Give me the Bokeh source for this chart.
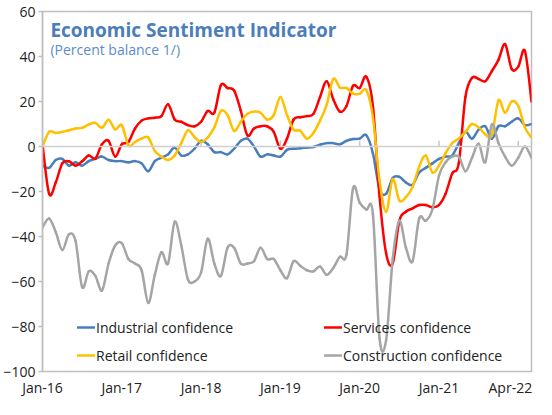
import numpy as np
from bokeh.plotting import figure
from bokeh.models import Range1d, FixedTicker, Span, Label, Legend, LegendItem
from bokeh.embed import file_html
from bokeh.resources import INLINE

# Monthly data, Jan-16 .. Mar-22 (75 months), month index used as x
industrial = [-8.5, -9.5, -6, -5.5, -8.5, -7, -8.5, -6.5, -5.5, -4.5, -6, -6.5,
              -6.5, -7, -6.5, -7.5, -11, -6.5, -5, -3.5, -0.5, -4, -3.5, -1,
              2.5, 1, -2.5, -2.5, -3.5, -1, 2.5, 3.5, 0, -4.5, -3.5, -4,
              -4.5, -1.5, -1, -0.8, -0.5, -0.2, 0.8, 1.5, 1.5, 1, 2.5, 3.3,
              3.5, 5, -3, -19, -21, -14, -13.5, -16, -17, -11.5, -9.5, -7.5,
              -5.5, -4.5, -4, 1.5, 6.5, 3.5, 7.5, 9, 3.5, 9, 9, 11,
              12.5, 9.5, 10]
services = [1, -21, -16, -7.5, -6.6, -8.5, -6.6, -4, -5.3, 1, 2.5, -4.5,
            1, 2, 8, 11.5, 12.5, 12.8, 13.5, 18.8, 12, 11, 9.5, 9,
            11, 15.8, 15, 27.3, 26, 24.8, 16, 5, 8, 9, 9, 6.5,
            -1, 3.5, 12, 13, 13.5, 14.5, 22, 29, 21, 15.5, 18, 27,
            26, 31, 18, -22, -47.5, -52, -33, -29, -27.5, -26, -26, -27,
            -26, -21, -12, -7.4, 22, 30.5, 30, 29, 33.5, 38.5, 45.5, 34.5,
            35.5, 42.5, 20]
retail = [0, 6.5, 6, 6.5, 7.2, 8, 8.3, 9.8, 10.5, 8.3, 11.9, 7.6,
          9.5, 0.5, 2, 3.5, 4, -2, -4.5, -6, -4, 1.5, 7.2, 4.2,
          2, 4, 8.5, 15.8, 14, 6.9, 11, 14.5, 15.5, 15, 12, 14,
          22, 14, 7.5, 7, 3.5, 6, 11.5, 18.5, 30, 26.2, 26, 23.5,
          23.4, 25, 13, -15, -29, -14.5, -24, -22.5, -18, -9, -4, -11.5,
          -8.5, -3, 1.5, 3.5, 6.5, 10, 8.5, 5.5, 5, 20.5, 15, 20,
          18, 8.5, 4]
construction = [-36, -32, -38, -46, -39, -42, -62.5, -55.5, -57.5, -64, -52, -44,
                -43, -50, -52, -55, -69.5, -57, -47, -52, -33.5, -44, -59, -60,
                -56, -41, -52, -57.5, -45, -45, -52, -52, -51, -45, -50, -50,
                -55, -58.5, -51, -53, -55, -55.5, -53.3, -57, -54, -49, -48, -18.5,
                -25, -28, -30, -85, -86, -50, -33, -45, -51, -32, -33, -28,
                -13, -7, -4.5, -4.5, -11, -5, 1.2, -7, 9.8, 1.5, -4.5, -8.5,
                -5, 0, -5]
months = list(range(len(industrial)))

y_ticks = [-100, -80, -60, -40, -20, 0, 20, 40, 60]
year_ticks = [0, 12, 24, 36, 48, 60, 72]
x_label_pos = [0, 12, 24, 36, 48, 60, 70.8]
x_labels = ["Jan-16", "Jan-17", "Jan-18", "Jan-19", "Jan-20", "Jan-21", "Apr-22"]

FONT = "Open Sans"

p = figure(width=536, height=399, x_range=Range1d(0, 74), y_range=Range1d(-100, 60),
           output_backend="svg", toolbar_location=None,
           min_border_left=37, min_border_right=5, min_border_top=11, min_border_bottom=25)
p.xgrid.visible = False
p.ygrid.visible = False
p.outline_line_color = "#BFBFBF"
p.outline_line_width = 1.5
p.background_fill_color = "white"
p.border_fill_color = "white"

# y axis
p.yaxis.ticker = FixedTicker(ticks=y_ticks)
p.yaxis.axis_line_color = "#BFBFBF"
p.yaxis.axis_line_width = 1.5
p.yaxis.major_tick_line_color = "#BFBFBF"
p.yaxis.major_tick_line_width = 1.5
p.yaxis.major_tick_out = 4
p.yaxis.major_tick_in = 0
p.yaxis.minor_tick_line_color = None
p.yaxis.major_label_standoff = 3
p.yaxis.major_label_text_font = FONT
p.yaxis.major_label_text_font_size = "14px"
p.yaxis.major_label_text_color = "#222222"

# x axis (labels only, at the bottom)
p.xaxis.ticker = FixedTicker(ticks=x_label_pos)
p.xaxis.major_label_overrides = {pos: lab for pos, lab in zip(x_label_pos, x_labels)}
p.xaxis.axis_line_color = None
p.xaxis.major_tick_line_color = None
p.xaxis.minor_tick_line_color = None
p.xaxis.major_tick_out = 0
p.xaxis.major_label_standoff = 6
p.xaxis.major_label_text_font = FONT
p.xaxis.major_label_text_font_size = "14px"
p.xaxis.major_label_text_color = "#222222"

# zero line with upward year ticks
p.add_layout(Span(location=0, dimension="width", line_color="#D0D0D0", line_width=1.5))
p.segment(x0=year_ticks, y0=[0] * len(year_ticks), x1=year_ticks, y1=[2.6] * len(year_ticks),
          line_color="#C8C8C8", line_width=1.5)


def smooth_line(xs, ys, color):
    """Draw a smoothed (Excel-like) line through the data points with bezier segments."""
    x = np.asarray(xs, dtype=float)
    y = np.asarray(ys, dtype=float)
    xp = np.concatenate([[x[0]], x, [x[-1]]])
    yp = np.concatenate([[y[0]], y, [y[-1]]])
    x0, y0 = x[:-1], y[:-1]
    x1, y1 = x[1:], y[1:]
    cx0 = x0 + (xp[2:-1] - xp[:-3]) / 6.0
    cy0 = y0 + (yp[2:-1] - yp[:-3]) / 6.0
    cx1 = x1 - (xp[3:] - xp[1:-2]) / 6.0
    cy1 = y1 - (yp[3:] - yp[1:-2]) / 6.0
    return p.bezier(x0=x0, y0=y0, x1=x1, y1=y1, cx0=cx0, cy0=cy0, cx1=cx1, cy1=cy1,
                    line_color=color, line_width=2.5, line_cap="round")


r_ind = smooth_line(months, industrial, "#4A7EBB")
r_ser = smooth_line(months, services, "#FF0000")
r_ret = smooth_line(months, retail, "#FFC000")
r_con = smooth_line(months, construction, "#A5A5A5")


def make_legend(items, loc):
    lg = Legend(items=items, location=loc, orientation="vertical",
                glyph_width=18, glyph_height=20, label_height=20, spacing=8,
                padding=0, margin=0, label_standoff=1,
                border_line_alpha=0, background_fill_alpha=0,
                label_text_font=FONT, label_text_font_size="14px",
                label_text_color="#222222")
    return lg

p.add_layout(make_legend([LegendItem(label="Industrial confidence", renderers=[r_ind]),
                          LegendItem(label="Retail confidence", renderers=[r_ret])], (35, 6)), "center")
p.add_layout(make_legend([LegendItem(label="Services confidence", renderers=[r_ser]),
                          LegendItem(label="Construction confidence", renderers=[r_con])], (282, 6)), "center")

p.add_layout(Label(x=1.2, y=51.9, text="Economic Sentiment Indicator", text_font=FONT,
                   text_font_style="bold", text_font_size="19px", text_color="#4A7EBB",
                   text_baseline="alphabetic"))
p.add_layout(Label(x=1.2, y=43.3, text="(Percent balance 1/)", text_font=FONT,
                   text_font_size="14px", text_color="#5B8CC6",
                   text_baseline="alphabetic"))

open("out.html", "w").write(file_html(p, INLINE))
